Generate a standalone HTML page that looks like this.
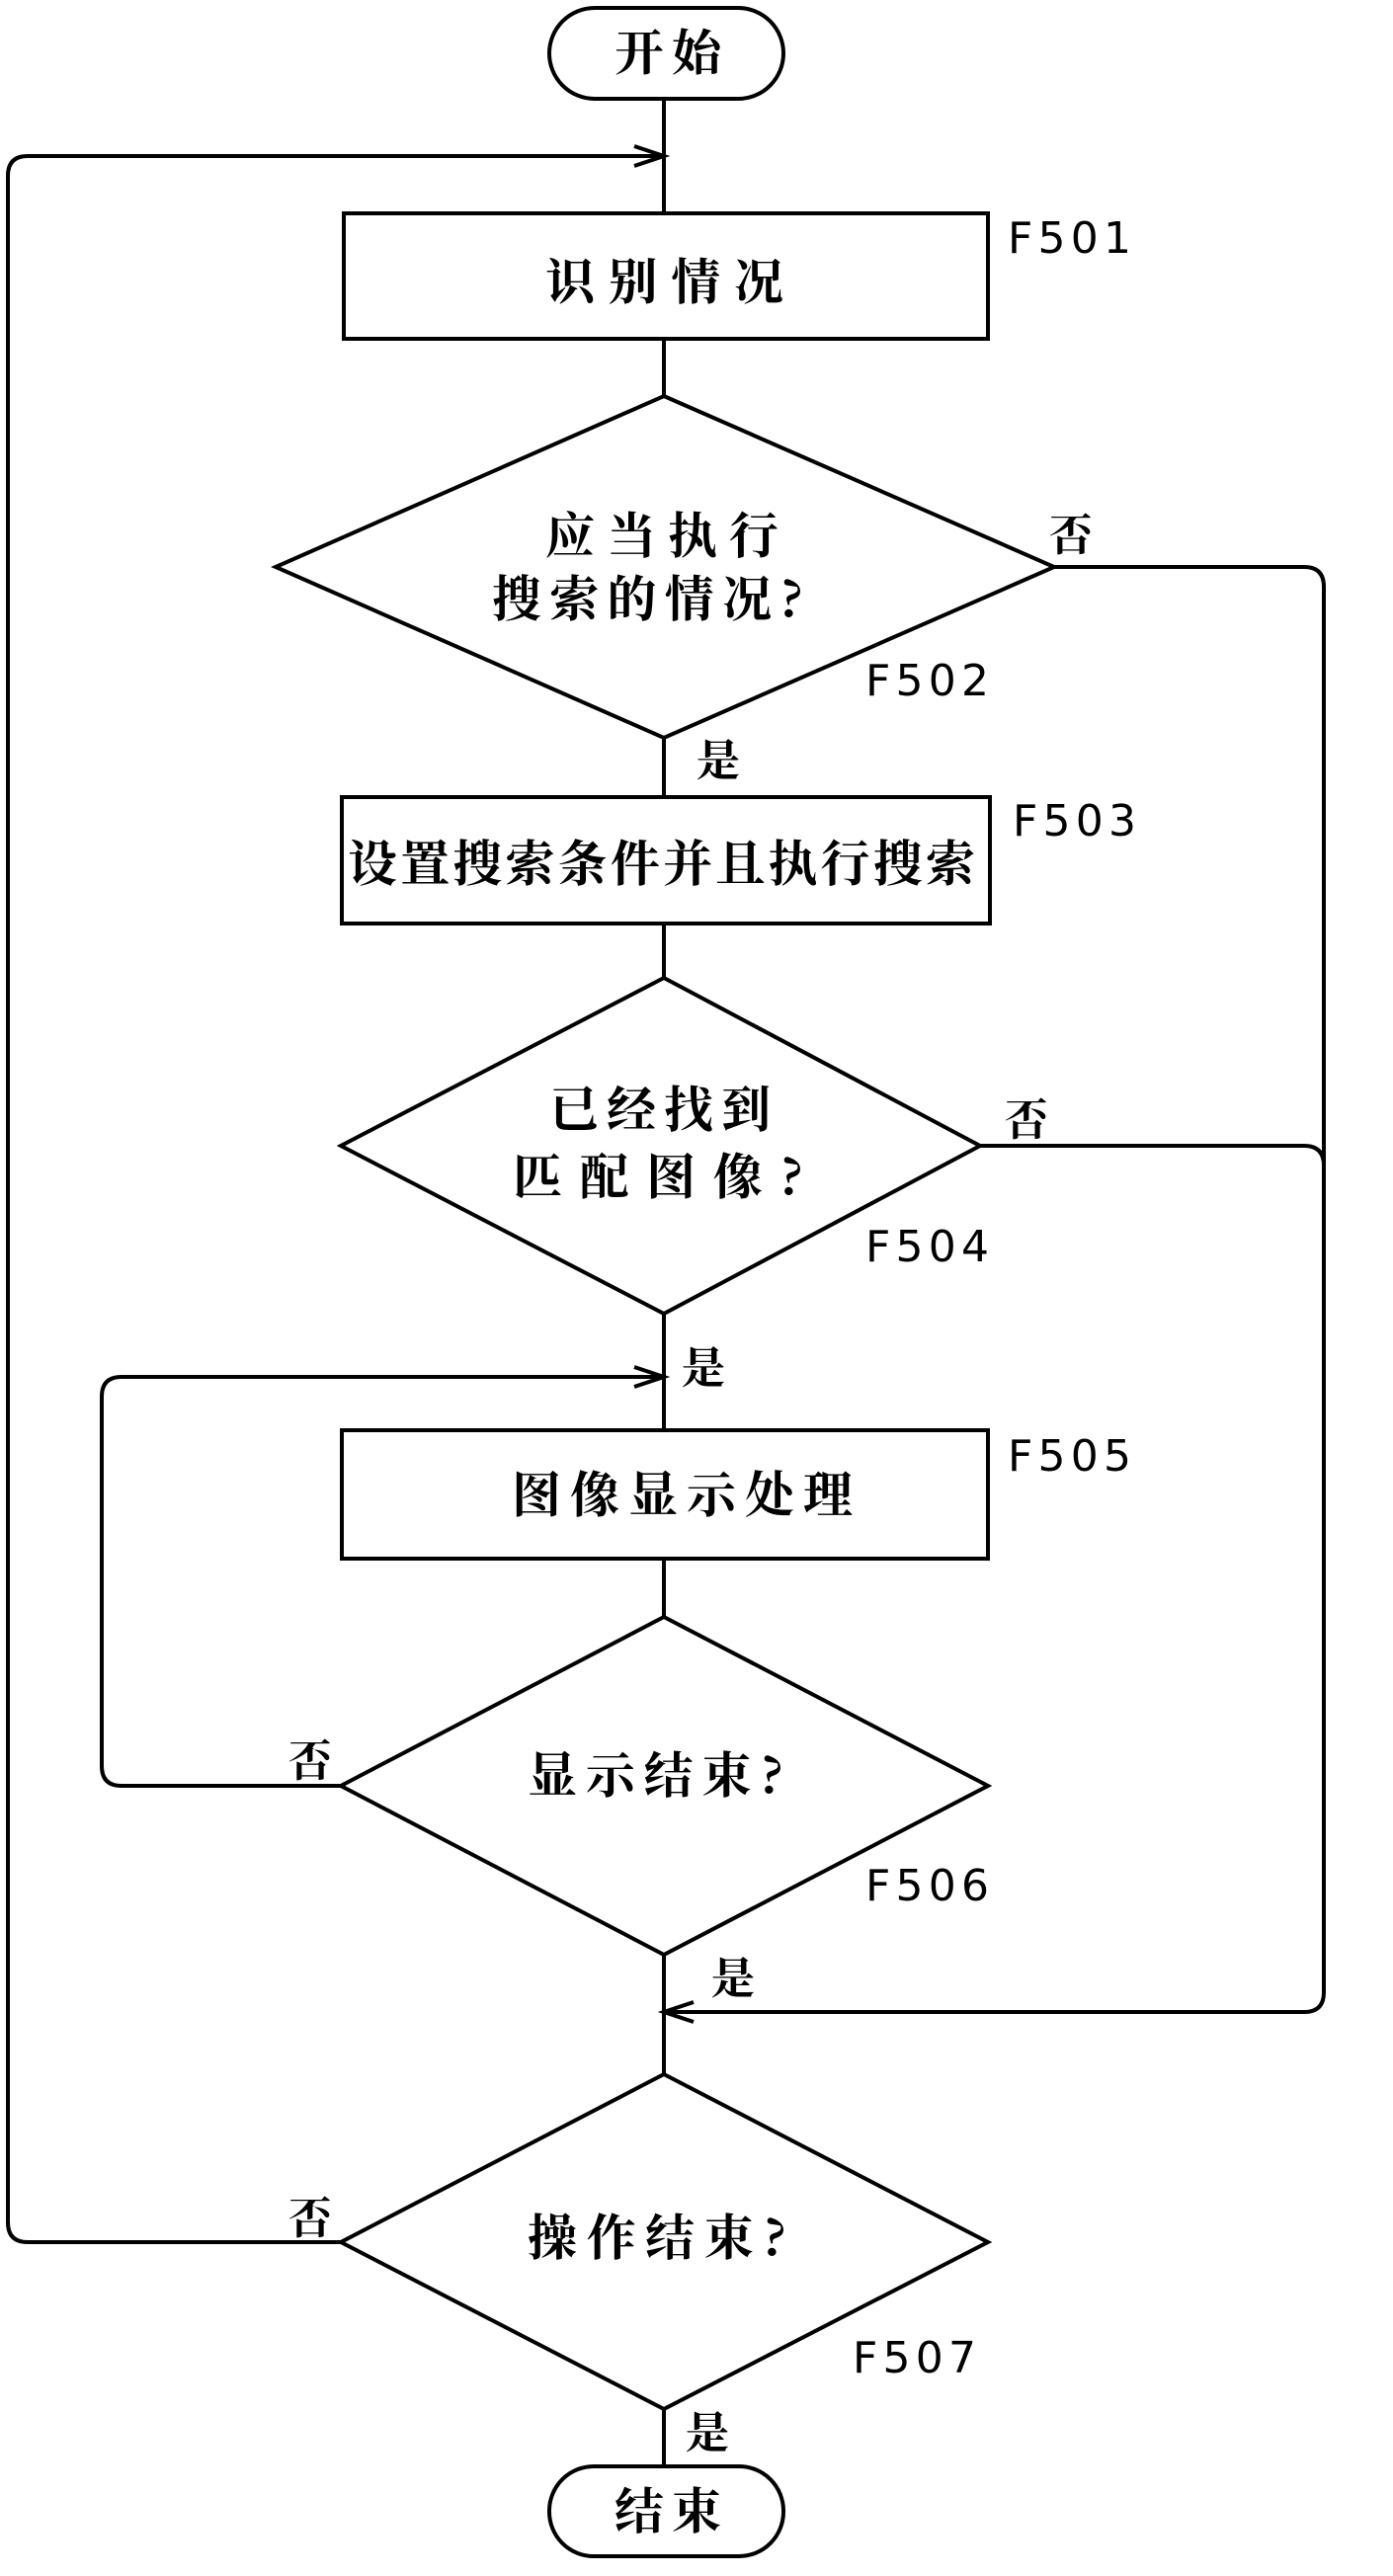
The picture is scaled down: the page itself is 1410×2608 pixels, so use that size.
<!DOCTYPE html>
<html><head><meta charset="utf-8"><style>
html,body{margin:0;padding:0;background:#fff}
svg{display:block}
.c{font-family:"Noto Serif CJK SC","Noto Sans CJK SC",serif;font-weight:bold;font-size:50px;fill:#000}
.f{font-family:"DejaVu Sans","Liberation Sans",sans-serif;font-size:44px;fill:#000}
</style></head><body>
<svg width="1410" height="2608" viewBox="0 0 1410 2608" xmlns="http://www.w3.org/2000/svg">
<g fill="none" stroke="#000" stroke-width="4">
<rect x="556" y="8" width="237" height="92" rx="46"/>
<rect x="556" y="2497" width="237" height="91" rx="45"/>
<rect x="348" y="216" width="652" height="127"/>
<rect x="346" y="807" width="656" height="128"/>
<rect x="346" y="1448" width="654" height="130"/>
<polygon points="672,401 1067,574 672,747 279,574"/>
<polygon points="672,990 992,1160 672,1330 345,1160"/>
<polygon points="672,1637 1000,1808 672,1979 345,1808"/>
<polygon points="672,2100 1000,2270 672,2439 345,2270"/>
<line x1="672" y1="100" x2="672" y2="216"/>
<line x1="672" y1="343" x2="672" y2="401"/>
<line x1="672" y1="747" x2="672" y2="807"/>
<line x1="672" y1="935" x2="672" y2="990"/>
<line x1="672" y1="1330" x2="672" y2="1448"/>
<line x1="672" y1="1578" x2="672" y2="1637"/>
<line x1="672" y1="1979" x2="672" y2="2100"/>
<line x1="672" y1="2439" x2="672" y2="2497"/>
<path d="M1067,574 H1320 Q1340,574 1340,594 V2017 Q1340,2037 1320,2037 H672"/>
<path d="M992,1160 H1320 Q1340,1160 1340,1180"/>
<path d="M345,2270 H28 Q8,2270 8,2250 V178 Q8,158 28,158 H672"/>
<path d="M345,1808 H123 Q103,1808 103,1788 V1414 Q103,1394 123,1394 H672"/>
<path d="M642,148 L672,158 L642,168"/>
<path d="M642,1384 L672,1394 L642,1404"/>
<path d="M702,2027 L672,2037 L702,2047"/>
</g>
<g class="c">
<text x="622" y="71" textLength="108">开始</text>
<text x="552" y="303" textLength="241">识别情况</text>
<text x="552" y="560" textLength="236">应当执行</text>
<text x="498" y="624" textLength="315">搜索的情况?</text>
<text x="352" y="892" textLength="635">设置搜索条件并且执行搜索</text>
<text x="556" y="1141" textLength="224">已经找到</text>
<text x="519" y="1209" textLength="294">匹配图像?</text>
<text x="518" y="1531" textLength="345">图像显示处理</text>
<text x="534" y="1815" textLength="259">显示结束?</text>
<text x="534" y="2283" textLength="262">操作结束?</text>
<text x="622" y="2560" textLength="108">结束</text>
<text x="1062" y="557" font-size="44">否</text>
<text x="1017" y="1149" font-size="44">否</text>
<text x="292" y="1798" font-size="44">否</text>
<text x="292" y="2261" font-size="44">否</text>
<text x="705" y="785" font-size="44">是</text>
<text x="690" y="1400" font-size="44">是</text>
<text x="720" y="2018" font-size="44">是</text>
<text x="694" y="2478" font-size="44">是</text>
</g>
<g class="f">
<text x="1020" y="256" textLength="125">F501</text>
<text x="876" y="704" textLength="125">F502</text>
<text x="1025" y="846" textLength="125">F503</text>
<text x="876" y="1277" textLength="125">F504</text>
<text x="1020" y="1489" textLength="125">F505</text>
<text x="876" y="1924" textLength="125">F506</text>
<text x="863" y="2402" textLength="125">F507</text>
</g>
</svg>
</body></html>
